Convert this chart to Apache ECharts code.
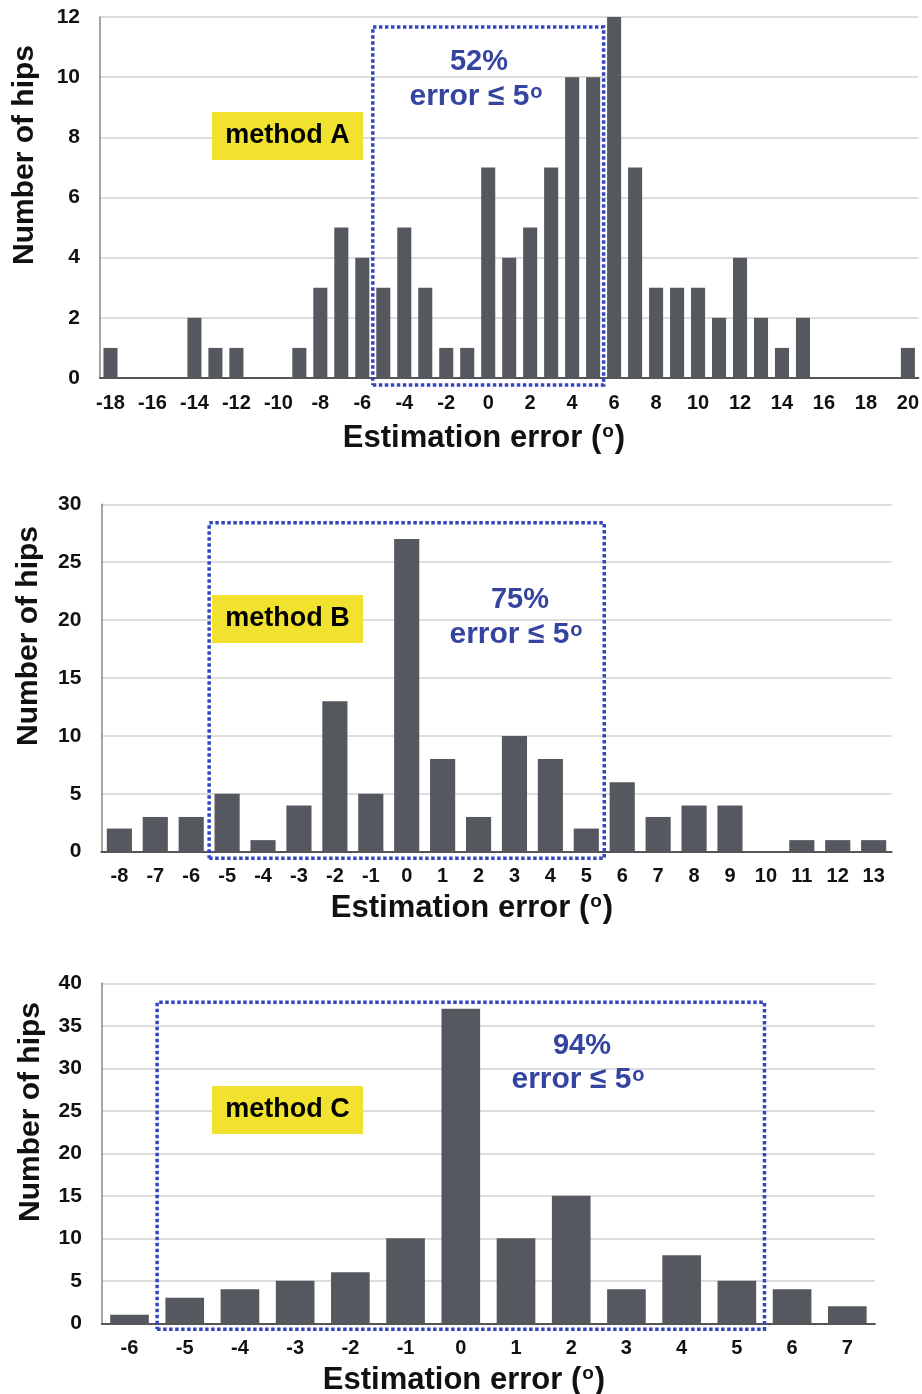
<!DOCTYPE html>
<html><head><meta charset="utf-8">
<script src="https://cdn.jsdelivr.net/npm/echarts@6/dist/echarts.min.js"></script>
<style>html,body{margin:0;padding:0;background:#fff}#c{width:922px;height:1394px}</style>
</head><body><div id="c"></div>
<script>
// ---- data ----
const catsA = ['-18','-17','-16','-15','-14','-13','-12','-11','-10','-9','-8','-7','-6','-5','-4','-3','-2','-1','0','1','2','3','4','5','6','7','8','9','10','11','12','13','14','15','16','17','18','19','20'];
const valsA = [1,0,0,0,2,1,1,0,0,1,3,5,4,3,5,3,1,1,7,4,5,7,10,10,12,7,3,3,3,2,4,2,1,2,0,0,0,0,1];
const catsB = ['-8','-7','-6','-5','-4','-3','-2','-1','0','1','2','3','4','5','6','7','8','9','10','11','12','13'];
const valsB = [2,3,3,5,1,4,13,5,27,8,3,10,8,2,6,3,4,4,0,1,1,1];
const catsC = ['-6','-5','-4','-3','-2','-1','0','1','2','3','4','5','6','7'];
const valsC = [1,3,4,5,6,10,37,10,15,4,8,5,4,2];
const yMax = [12, 30, 40];
const yStep = [2, 5, 5];
const methods = ['method A', 'method B', 'method C'];
const pcts = ['52%', '75%', '94%'];
const rangeLo = -5, rangeHi = 5;
const yTitle = 'Number of hips';

// ---- styles / layout ----
const FF = "'Liberation Sans', Arial, Helvetica, sans-serif";
const BAR = '#55585f';
const BLUE = '#34449f';
const BOX = '#3346bd';
const grids = [
  {left: 100, top: 17, width: 820, height: 361},
  {left: 101.4, top: 504.3, width: 790.2, height: 347.4},
  {left: 101.9, top: 983.3, width: 773, height: 340}
];
const cats = [catsA, catsB, catsC];
const vals = [valsA, valsB, valsC];
const labelInt = [1, 0, 0];
const gaps = ['33%', '30%', '30%'];
const boxY = [[-0.23, 11.67], [-0.57, 28.4], [-0.7, 37.76]];

const xAxes = [], yAxes = [], series = [];
for (let i = 0; i < 3; i++) {
  xAxes.push({
    type: 'category', gridIndex: i, data: cats[i],
    axisLine: {show: true, onZero: false, lineStyle: {color: '#555', width: 2}},
    axisTick: {show: false, interval: 0},
    axisLabel: {interval: labelInt[i], color: '#111', fontSize: 20, fontWeight: 'bold', fontFamily: FF, margin: 15},
    splitLine: {show: false}
  });
  yAxes.push({
    type: 'value', gridIndex: i, min: 0, max: yMax[i], interval: yStep[i],
    axisLine: {show: true, onZero: false, lineStyle: {color: '#888', width: 1.5}},
    axisTick: {show: false},
    axisLabel: {color: '#111', fontSize: 21, fontWeight: 'bold', fontFamily: FF, margin: 20},
    splitLine: {show: true, lineStyle: {color: '#d2d2d2', width: 1.5}}
  });
  series.push({
    type: 'bar', xAxisIndex: i, yAxisIndex: i, data: vals[i],
    barCategoryGap: gaps[i], silent: true,
    itemStyle: {color: BAR}
  });
}
// hidden numeric x axes spanning the same category bands, used for the dotted range box (|error| <= 5)
for (let i = 0; i < 3; i++) {
  const lo = Number(cats[i][0]) - 0.5, hi = Number(cats[i][cats[i].length - 1]) + 0.5;
  xAxes.push({type: 'value', gridIndex: i, min: lo, max: hi, show: false, splitLine: {show: false}, axisLine: {onZero: false}});
  const x0 = rangeLo - 0.5, x1 = rangeHi + 0.5, y0 = boxY[i][0], y1 = boxY[i][1];
  series.push({
    type: 'line', xAxisIndex: 3 + i, yAxisIndex: i, silent: true, z: 10, clip: false,
    symbol: 'none', animation: false,
    lineStyle: {color: BOX, width: 3.5, type: [3.5, 2.5], cap: 'butt', join: 'miter'},
    data: [[x0, y0], [x1, y0], [x1, y1], [x0, y1], [x0, y0]]
  });
}

const graphic = [];
const methodY = [112, 595, 1086];
const pctPos = [[479, 62, 476, 97], [520, 600, 516, 635], [582, 1045.5, 578, 1080]];
const xNamePos = [[484, 438], [472, 908], [464, 1380]];
const yNamePos = [[25, 155], [29, 636], [31, 1112]];
for (let i = 0; i < 3; i++) {
  graphic.push({type: 'rect', shape: {x: 212, y: methodY[i], width: 151, height: 48}, style: {fill: '#f0e22f'}, z: 100});
  graphic.push({type: 'text', x: 287.5, y: methodY[i] + 24, z: 101,
    style: {text: methods[i], fill: '#000', font: 'bold 27px ' + FF, align: 'center', verticalAlign: 'middle'}});
  graphic.push({type: 'text', x: pctPos[i][0], y: pctPos[i][1], z: 101,
    style: {text: pcts[i], fill: BLUE, font: 'bold 29px ' + FF, align: 'center', verticalAlign: 'middle'}});
  graphic.push({type: 'text', x: pctPos[i][2], y: pctPos[i][3], z: 101,
    style: {text: '{m|error ≤ 5}{s|o}', fill: BLUE, font: 'bold 30px ' + FF, align: 'center', verticalAlign: 'middle',
      rich: {m: {fontSize: 30, fontWeight: 'bold', fontFamily: FF, fill: BLUE}, s: {fontSize: 20, fontWeight: 'bold', fontFamily: FF, fill: BLUE, verticalAlign: 'top', padding: [0,0,8,1]}}}});
  graphic.push({type: 'text', x: xNamePos[i][0], y: xNamePos[i][1], z: 101,
    style: {text: '{m|Estimation error (}{s|o}{m|)}', fill: '#111', font: 'bold 31px ' + FF, align: 'center', verticalAlign: 'middle',
      rich: {m: {fontSize: 31, fontWeight: 'bold', fontFamily: FF, fill: '#111'}, s: {fontSize: 19, fontWeight: 'bold', fontFamily: FF, fill: '#111', verticalAlign: 'top', padding: [0,1,8,1]}}}});
  graphic.push({type: 'text', x: yNamePos[i][0], y: yNamePos[i][1], rotation: Math.PI / 2, z: 101,
    style: {text: yTitle, fill: '#111', font: 'bold 30px ' + FF, align: 'center', verticalAlign: 'middle'}});
}

const chart = echarts.init(document.getElementById('c'), null, {renderer: 'canvas'});
chart.setOption({
  animation: false,
  grid: grids,
  xAxis: xAxes,
  yAxis: yAxes,
  series: series,
  graphic: graphic
});
</script></body></html>
